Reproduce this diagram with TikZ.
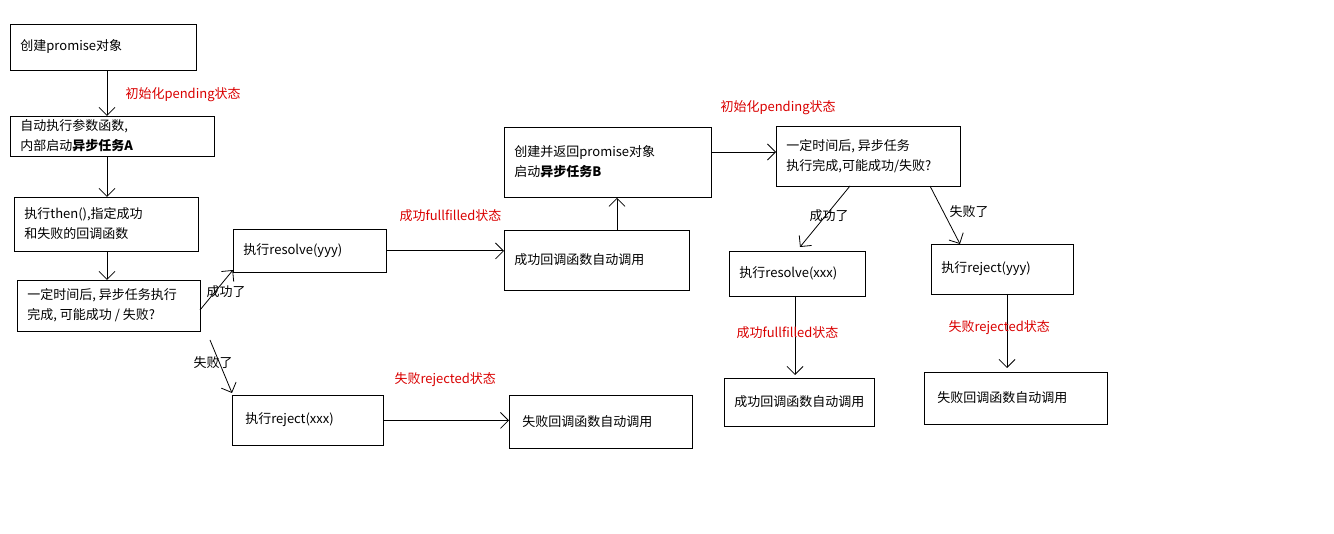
\documentclass[tikz,border=0pt]{standalone}
\usepackage{fontspec}
\setmainfont{Noto Sans CJK SC}
\usetikzlibrary{arrows.meta}
\begin{document}
\begin{tikzpicture}[x=1pt,y=-1pt,
  box/.style={draw,line width=0.8pt,anchor=north west,inner sep=0pt,font=\fontsize{13}{20}\selectfont,align=left},
  ar/.style={-{Straight Barb[length=8pt,width=16pt]},line width=0.8pt},
  red/.style={text=red!85!black,font=\fontsize{13}{16}\selectfont},
  lab/.style={font=\fontsize{13}{16}\selectfont}]
\useasboundingbox (0,0) rectangle (1334,534);
\newcommand\bx[6]{\node[box,minimum width=#4-#2,minimum height=#5-#3] (#1) at (#2,#3) {}; \node[box,draw=none,anchor=west] at (#2+10,#3/2+#5/2) {#6};}
\bx{A}{10}{24}{196}{70}{创建promise对象}
\bx{B}{10}{116}{214}{156}{自动执行参数函数,\\内部启动\textbf{异步任务A}}
\bx{C}{14}{197}{198}{251}{执行then(),指定成功\\和失败的回调函数}
\bx{D}{17}{280}{200}{331}{一定时间后, 异步任务执行\\完成, 可能成功 / 失败?}
\bx{E}{233}{229}{386}{272}{执行resolve(yyy)}
\bx{F}{504}{230}{689}{290}{成功回调函数自动调用}
\bx{G}{232}{395}{383}{445}{\ 执行reject(xxx)}
\bx{H}{509}{395}{692}{448}{\ 失败回调函数自动调用}
\bx{I}{504}{127}{711}{197}{创建并返回promise对象\\启动\textbf{异步任务B}}
\bx{J}{776}{126}{960}{186}{一定时间后, 异步任务\\执行完成,可能成功/失败?}
\bx{K}{729}{251}{865}{296}{执行resolve(xxx)}
\bx{L}{931}{244}{1073}{294}{执行reject(yyy)}
\bx{M}{724}{378}{874}{426}{成功回调函数自动调用}
\bx{N}{924}{372}{1107}{424}{\ 失败回调函数自动调用}
\draw[ar] (A.south -| 107,0) -- (B.north -| 107,0);
\draw[ar] (B.south -| 107,0) -- (C.north -| 107,0);
\draw[ar] (C.south -| 107,0) -- (D.north -| 107,0);
\draw[ar] (200,310) -- (233,270);
\draw[ar] (210,340) -- (232,393);
\draw[ar] (E.east) -- (F.west |- E.east);
\draw[ar] (G.east) -- (H.west |- G.east);
\draw[ar] (F.north -| 617,0) -- (I.south -| 617,0);
\draw[ar] (711,152) -- (776,152);
\draw[ar] (850,186) -- (800,247);
\draw[ar] (930,186) -- (960,244);
\draw[ar] (795,296) -- (795,375);
\draw[ar] (1007,294) -- (1007,368);
\node[red,anchor=west] at (122,95) {初始化pending状态};
\node[red,anchor=west] at (396,216) {成功fullfilled状态};
\node[red,anchor=west] at (391,380) {失败rejected状态};
\node[red,anchor=west] at (717,108) {初始化pending状态};
\node[red,anchor=west] at (733,333) {成功fullfilled状态};
\node[red,anchor=west] at (945,328) {失败rejected状态};
\node[lab,anchor=west] at (203,292) {成功了};
\node[lab,anchor=west] at (190,363) {失败了};
\node[lab,anchor=west] at (806,216) {成功了};
\node[lab,anchor=west] at (946,212) {失败了};
\end{tikzpicture}
\end{document}
